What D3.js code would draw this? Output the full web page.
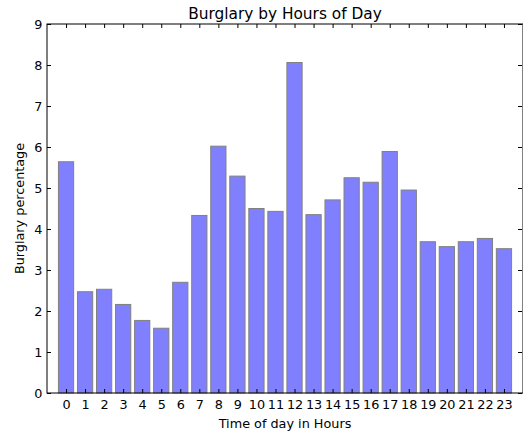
<!DOCTYPE html>
<html>
<head>
<meta charset="utf-8">
<script src="https://cdn.jsdelivr.net/npm/d3@7"></script>
<style>
  body { margin: 0; background: white; }
  text { font-family: "DejaVu Sans", sans-serif; fill: black; }
</style>
</head>
<body>
<div id="viz"></div>
<script>
// hours of the day and share of burglaries per hour
var hours = d3.range(0, 24);
var burglaryPct = [5.64, 2.47, 2.53, 2.16, 1.77, 1.58, 2.70, 4.33, 6.02, 5.29, 4.50, 4.43,
                   8.06, 4.35, 4.71, 5.25, 5.14, 5.89, 4.95, 3.69, 3.57, 3.69, 3.77, 3.52];
var yTicks = [0, 1, 2, 3, 4, 5, 6, 7, 8, 9];

var width = 523, height = 434;
var margin = ({top: 24, right: 0, bottom: 41, left: 47});
var fontSize = 12.8;

var x = d3.scaleLinear()
  .domain([-1, 24])
  .range([margin.left, width - margin.right]);

var y = d3.scaleLinear()
  .domain([0, 9])
  .range([height - margin.bottom, margin.top]);

var svg = d3.select('#viz')
  .append('svg')
  .attr('width', width)
  .attr('height', height);

// bars, width 0.8 centered on the hour
svg.append("g")
  .selectAll("rect")
  .data(burglaryPct)
  .join("rect")
  .attr("fill", "#8080ff")
  .attr("stroke", "#808080")
  .attr("stroke-width", 1)
  .attr("x", (d, i) => x(hours[i] - 0.4))
  .attr("width", x(0.8) - x(0))
  .attr("y", d => y(d))
  .attr("height", d => y(0) - y(d));

// axes, ticks pointing inward like old matplotlib
svg.append("g")
  .attr("transform", `translate(0,${y(0)})`)
  .call(d3.axisBottom(x).tickValues(hours).tickFormat(d3.format("d")).tickSizeInner(-4).tickSizeOuter(0).tickPadding(6.5))
  .call(g => g.select(".domain").remove())
  .call(g => g.selectAll("text").attr("font-size", fontSize).attr("font-family", "DejaVu Sans"));

svg.append("g")
  .attr("transform", `translate(0,${y(9)})`)
  .call(d3.axisTop(x).tickValues(hours).tickFormat("").tickSizeInner(-4).tickSizeOuter(0))
  .call(g => g.select(".domain").remove());

svg.append("g")
  .attr("transform", `translate(${x(-1)},0)`)
  .call(d3.axisLeft(y).tickValues(yTicks).tickFormat(d3.format("d")).tickSizeInner(-4).tickSizeOuter(0).tickPadding(4.5))
  .call(g => g.select(".domain").remove())
  .call(g => g.selectAll("text").attr("font-size", fontSize).attr("font-family", "DejaVu Sans"));

svg.append("g")
  .attr("transform", `translate(${x(24) - 1},0)`)
  .call(d3.axisRight(y).tickValues(yTicks).tickFormat("").tickSizeInner(-4).tickSizeOuter(0))
  .call(g => g.select(".domain").remove());

// frame
svg.append("rect")
  .attr("x", x(-1))
  .attr("y", y(9))
  .attr("width", x(24) - x(-1))
  .attr("height", y(0) - y(9))
  .attr("fill", "none")
  .attr("stroke", "black")
  .attr("stroke-width", 1);

svg.append("text")
  .attr("x", (x(-1) + x(24)) / 2)
  .attr("y", 19)
  .attr("text-anchor", "middle")
  .attr("font-size", fontSize * 1.2)
  .text("Burglary by Hours of Day");

svg.append("text")
  .attr("x", (x(-1) + x(24)) / 2)
  .attr("y", 428)
  .attr("text-anchor", "middle")
  .attr("font-size", fontSize)
  .text("Time of day in Hours");

svg.append("text")
  .attr("transform", `translate(24,${(y(0) + y(9)) / 2}) rotate(-90)`)
  .attr("text-anchor", "middle")
  .attr("font-size", fontSize)
  .text("Burglary percentage");
</script>
</body>
</html>
